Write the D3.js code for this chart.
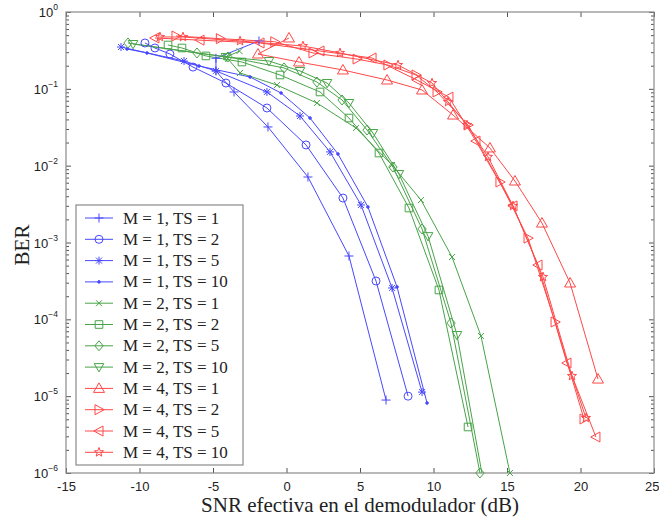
<!DOCTYPE html>
<html><head><meta charset="utf-8">
<script src="https://cdn.jsdelivr.net/npm/d3@7"></script>
<style>body{margin:0;background:#fff}svg{display:block}</style>
</head><body><svg id="c" width="659" height="521"></svg>
<script>
// ---------- data ----------
const seriesLabels = ["M = 1, TS = 1","M = 1, TS = 2","M = 1, TS = 5","M = 1, TS = 10",
  "M = 2, TS = 1","M = 2, TS = 2","M = 2, TS = 5","M = 2, TS = 10",
  "M = 4, TS = 1","M = 4, TS = 2","M = 4, TS = 5","M = 4, TS = 10"];
const xTicks = [-15,-10,-5,0,5,10,15,20,25];
const yExponents = [0,-1,-2,-3,-4,-5,-6];

// [SNR (dB), BER]
const m1ts1 = [[-1.87,0.42],[-4.80,0.25],[-4.80,0.171],[-3.57,0.091],[-1.26,0.0319],[1.46,0.00712],[4.25,0.000667],[6.77,8.9e-6]];
const m1ts2 = [[-9.63,0.395],[-8.95,0.34],[-7.93,0.284],[-6.36,0.192],[-4.12,0.119],[-1.33,0.0563],[1.33,0.0186],[3.84,0.00379],[6.09,0.000315],[8.27,1.0e-5]];
const m1ts5 = [[-11.26,0.35],[-6.97,0.23],[-4.80,0.171],[-1.33,0.091],[0.92,0.0443],[2.96,0.0151],[5.07,0.00308],[7.18,0.000256],[9.22,1.13e-5]];
const m1ts10 = [[-10.85,0.33],[-9.49,0.293],[-5.95,0.198],[-2.48,0.1426],[-0.37,0.0883],[1.60,0.0417],[3.50,0.0142],[5.54,0.0029],[7.52,0.000264],[9.56,8.14e-6]];
const m2ts1 = [[-3.2,0.31],[-4.1,0.26],[-3.16,0.161],[-0.65,0.112],[2.07,0.0654],[4.73,0.0309],[7.18,0.0102],[9.15,0.00357],[11.26,0.000647],[13.23,6.07e-5],[15.20,1.0e-6]];
const m2ts2 = [[-8.06,0.372],[-7.11,0.34],[-5.48,0.268],[-3.03,0.2235],[-0.44,0.1514],[2.28,0.091],[4.25,0.0417],[6.29,0.0146],[8.33,0.00281],[10.37,0.000241],[12.35,3.97e-6]];
const m2ts5 = [[-10.78,0.395],[-6.09,0.293],[-3.98,0.26],[-0.17,0.187],[2.07,0.1227],[3.78,0.0716],[5.48,0.0291],[7.24,0.0096],[9.22,0.0015],[11.19,8.95e-5],[13.16,1.0e-6]];
const m2ts10 = [[-10.44,0.383],[-4.12,0.26],[-1.19,0.23],[0.92,0.1707],[2.76,0.119],[4.25,0.0654],[5.88,0.0266],[7.65,0.00779],[9.63,0.00121],[11.60,6.25e-5],[13.5,6e-7]];
const m4ts1 = [[0.17,0.459],[-1.94,0.284],[0.85,0.2235],[3.84,0.176],[6.84,0.1303],[9.22,0.0966],[11.33,0.0456],[13.84,0.0170],[15.54,0.00631],[17.38,0.00179],[19.29,0.000297],[21.19,1.67e-5]];
const m4ts2 = [[-7.52,0.487],[-4.5,0.45],[-0.8,0.41],[1.80,0.293],[4.80,0.244],[6.90,0.204],[8.81,0.1514],[10.24,0.091],[12.35,0.0338],[14.52,0.00613],[16.43,0.00114],[18.27,9.23e-5],[20.24,5.04e-6]];
const m4ts5 = [[-8.95,0.459],[-5.88,0.43],[-1.8,0.395],[2.28,0.311],[5.82,0.252],[8.88,0.13],[11.05,0.078],[12.89,0.0209],[15.41,0.00299],[17.11,0.000509],[19.08,2.70e-5],[21.05,2.94e-6]];
const m4ts10 = [[-8.61,0.473],[-7.04,0.473],[-3.16,0.419],[1.12,0.361],[3.64,0.293],[7.59,0.204],[9.90,0.119],[10.99,0.0674],[12.28,0.0338],[13.71,0.0130],[15.41,0.00299],[17.45,0.000356],[19.42,1.83e-5],[20.37,5.2e-6]];

const seriesData = [m1ts1,m1ts2,m1ts5,m1ts10,m2ts1,m2ts2,m2ts5,m2ts10,m4ts1,m4ts2,m4ts5,m4ts10];

// ---------- styles ----------
const BLUE = "#4848ff", GREEN = "#48a448", RED = "#ff4848";
const seriesColors = [BLUE,BLUE,BLUE,BLUE,GREEN,GREEN,GREEN,GREEN,RED,RED,RED,RED];
const seriesMarkers = ["plus","circle","asterisk","point","x","square","diamond","tridown","triup","triright","trileft","star"];

function markerPath(t){
  switch(t){
    case "plus": return "M-4.5,0H4.5M0,-4.5V4.5";
    case "circle": return "M4,0A4,4 0 1,1 -4,0A4,4 0 1,1 4,0Z";
    case "asterisk": return "M-4,0H4M0,-4V4M-3,-3L3,3M-3,3L3,-3";
    case "point": return "M1.3,0A1.3,1.3 0 1,1 -1.3,0A1.3,1.3 0 1,1 1.3,0Z";
    case "x": return "M-3,-3L3,3M-3,3L3,-3";
    case "square": return "M-3.8,-3.8H3.8V3.8H-3.8Z";
    case "diamond": return "M0,-5L4.2,0L0,5L-4.2,0Z";
    case "tridown": return "M-4.8,-3.5H4.8L0,4.8Z";
    case "triup": return "M0,-5.5L5.5,4H-5.5Z";
    case "triright": return "M-4,-5L5.2,0L-4,5Z";
    case "trileft": return "M4,-5L-5.2,0L4,5Z";
    case "star": {
      let p = [];
      for (let i=0;i<10;i++){
        const r = i%2===0 ? 4.8 : 2.0;
        const a = -Math.PI/2 + i*Math.PI/5;
        p.push([r*Math.cos(a), r*Math.sin(a)]);
      }
      return "M" + p.map(d=>d[0].toFixed(2)+","+d[1].toFixed(2)).join("L") + "Z";
    }
  }
}

// ---------- layout ----------
const svg = d3.select("#c");
const L = 66, R = 654, T = 12, B = 473;
const x = d3.scaleLinear().domain([-15,25]).range([L,R]);
const y = d3.scaleLog().domain([1e-6,1]).range([B,T]);
const AX = "#555";

svg.append("defs").append("clipPath").attr("id","clip")
  .append("rect").attr("x",L).attr("y",T).attr("width",R-L).attr("height",B-T);

const gx = svg.append("g").attr("transform",`translate(0,${B})`)
  .call(d3.axisBottom(x).tickValues(xTicks).tickSize(-5).tickPadding(9).tickFormat(d=>d));
const gxt = svg.append("g").attr("transform",`translate(0,${T})`)
  .call(d3.axisTop(x).tickValues(xTicks).tickSize(-5).tickFormat(""));
const majors = yExponents.map(e=>Math.pow(10,e));
const minors = [];
for (let e=-6;e<0;e++) for (let k=2;k<=9;k++) minors.push(k*Math.pow(10,e));
const gyl = svg.append("g").attr("transform",`translate(${L},0)`)
  .call(d3.axisLeft(y).tickValues(majors).tickSize(-5).tickFormat(""));
const gyr = svg.append("g").attr("transform",`translate(${R},0)`)
  .call(d3.axisRight(y).tickValues(majors).tickSize(-5).tickFormat(""));
const gylm = svg.append("g").attr("transform",`translate(${L},0)`)
  .call(d3.axisLeft(y).tickValues(minors).tickSize(-3).tickFormat(""));
const gyrm = svg.append("g").attr("transform",`translate(${R},0)`)
  .call(d3.axisRight(y).tickValues(minors).tickSize(-3).tickFormat(""));
[gx,gxt,gyl,gyr,gylm,gyrm].forEach(g=>{
  g.select(".domain").remove();
  g.selectAll(".tick line").attr("stroke",AX).attr("stroke-width",1);
});
gx.selectAll(".tick text").attr("font-family","Liberation Sans, Arial, sans-serif")
  .attr("font-size",13).attr("fill","#222");
gx.selectAll(".tick text").filter(d=>d===25).attr("text-anchor","end").attr("dx",5);

svg.append("rect").attr("x",L).attr("y",T).attr("width",R-L).attr("height",B-T)
  .attr("fill","none").attr("stroke","#8a8a8a").attr("stroke-width",1.2);

const ylab = svg.append("g").attr("font-family","Liberation Sans, Arial, sans-serif").attr("fill","#222");
yExponents.forEach(e=>{
  const t = ylab.append("text").attr("x",L-8).attr("y",y(Math.pow(10,e))+5)
    .attr("text-anchor","end").attr("font-size",13);
  t.append("tspan").text("10");
  t.append("tspan").attr("dy",-7).attr("font-size",8.5).text(String(e).replace("-","\u2212"));
});

const line = d3.line().x(d=>x(d[0])).y(d=>y(d[1]));
const plot = svg.append("g");
seriesData.forEach((data,i)=>{
  plot.append("path").attr("d",line(data)).attr("fill","none")
    .attr("stroke",seriesColors[i]).attr("stroke-width",1).attr("clip-path","url(#clip)");
});
seriesData.forEach((data,i)=>{
  const m = seriesMarkers[i];
  plot.selectAll(null).data(data.filter(d=>d[1]>=1e-6*0.999)).enter().append("path")
    .attr("transform",d=>`translate(${x(d[0])},${y(d[1])})`)
    .attr("d",markerPath(m))
    .attr("fill", m==="point" ? seriesColors[i] : "none")
    .attr("stroke",seriesColors[i]).attr("stroke-width",1);
});

svg.append("text").attr("x",360).attr("y",512).attr("text-anchor","middle")
  .attr("font-family","Liberation Serif, Times New Roman, serif").attr("font-size",21).attr("fill","#222")
  .text("SNR efectiva en el demodulador (dB)");
svg.append("text").attr("transform","translate(29,245) rotate(-90)").attr("text-anchor","middle")
  .attr("font-family","Liberation Serif, Times New Roman, serif").attr("font-size",21).attr("fill","#222")
  .text("BER");

const lg = svg.append("g");
lg.append("rect").attr("x",76).attr("y",205).attr("width",167).attr("height",260)
  .attr("fill","#fff").attr("stroke","#8a8a8a").attr("stroke-width",1.2);
seriesLabels.forEach((lab,i)=>{
  const cy = 218 + i*21.3;
  lg.append("line").attr("x1",85).attr("x2",113).attr("y1",cy).attr("y2",cy)
    .attr("stroke",seriesColors[i]).attr("stroke-width",1);
  lg.append("path").attr("transform",`translate(99,${cy})`).attr("d",markerPath(seriesMarkers[i]))
    .attr("fill", seriesMarkers[i]==="point" ? seriesColors[i] : "none")
    .attr("stroke",seriesColors[i]).attr("stroke-width",1);
  lg.append("text").attr("x",123).attr("y",cy+5.5)
    .attr("font-family","Liberation Serif, Times New Roman, serif").attr("font-size",17).attr("fill","#222")
    .text(lab);
});
</script></body></html>
